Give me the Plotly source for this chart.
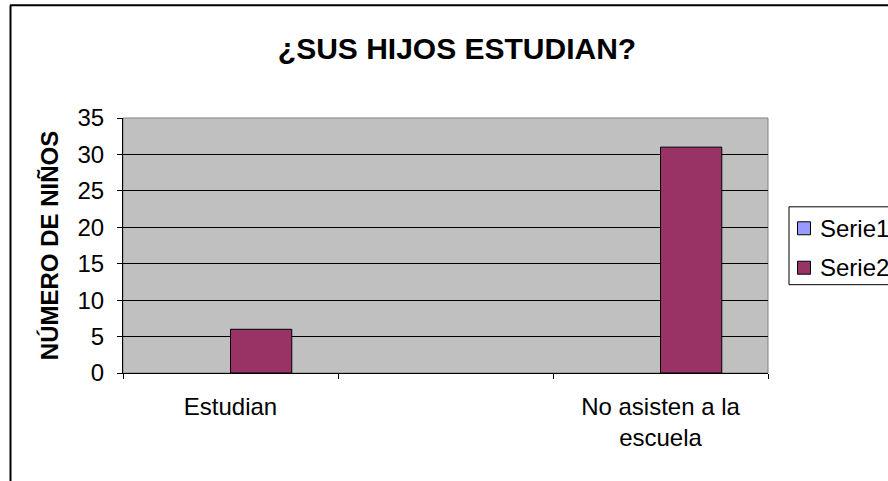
import plotly.graph_objects as go

categories = ["Estudian", " ", "No asisten a la<br>escuela"]
series_names = ["Serie1", "Serie2"]
serie1 = [None, None, None]
serie2 = [6, None, 31]
series_colors = ["#9999FF", "#993366"]
y_ticks = [0, 5, 10, 15, 20, 25, 30, 35]

FONT = "Liberation Sans, Arial, sans-serif"

fig = go.Figure()
for name, vals, col in zip(series_names, [serie1, serie2], series_colors):
    fig.add_trace(go.Bar(name=name, x=categories, y=vals,
                         marker=dict(color=col, line=dict(color="black", width=1)),
                         showlegend=False))

L, R, T, B = 123, 120, 118, 107.5
pw = 888 - L - R
ph = 481 - T - B

def px_x(p):
    return (p - L) / pw

def px_y(p):
    return (481 - B - p) / ph

shapes = [
    dict(type="rect", xref="paper", yref="paper", x0=0, x1=1, y0=0, y1=1,
         line=dict(color="#808080", width=1), layer="below"),
    dict(type="line", xref="paper", yref="paper", x0=px_x(10.5), x1=px_x(10.5),
         y0=px_y(5), y1=px_y(600), line=dict(color="black", width=2)),
    dict(type="line", xref="paper", yref="paper", x0=px_x(10), x1=px_x(1000),
         y0=px_y(5), y1=px_y(5), line=dict(color="black", width=2)),
    # legend box
    dict(type="rect", xref="paper", yref="paper", x0=px_x(789), x1=px_x(1000),
         y0=px_y(285), y1=px_y(207), line=dict(color="black", width=1),
         fillcolor="white"),
]
annotations = []
legend_centers = [228.5, 268]
for name, col, cy in zip(series_names, series_colors, legend_centers):
    shapes.append(dict(type="rect", xref="paper", yref="paper",
                       x0=px_x(797.5), x1=px_x(810.5), y0=px_y(cy + 6.5), y1=px_y(cy - 6.5),
                       line=dict(color="black", width=1), fillcolor=col))
    annotations.append(dict(text=name, xref="paper", yref="paper", x=px_x(818),
                            y=px_y(cy), xanchor="left", yanchor="middle", showarrow=False,
                            font=dict(size=24, family=FONT, color="black")))

fig.update_layout(
    width=888, height=481,
    margin=dict(l=L, r=R, t=T, b=B),
    paper_bgcolor="white",
    plot_bgcolor="#C0C0C0",
    font=dict(family=FONT, size=24, color="black"),
    barmode="group",
    bargap=0.43,
    bargroupgap=0,
    showlegend=False,
    title=dict(text="<b>¿SUS HIJOS ESTUDIAN?</b>", font=dict(size=30, family=FONT),
               xref="paper", x=px_x(457), xanchor="center",
               yref="container", y=1 - 48 / 481, yanchor="middle"),
    xaxis=dict(type="category", range=[-0.5, 2.5], tickson="boundaries",
               ticks="outside", ticklen=5, tickcolor="black",
               showline=True, linecolor="black", linewidth=1,
               showgrid=False, ticklabelstandoff=12,
               tickfont=dict(size=24)),
    yaxis=dict(range=[0, 35], tickvals=y_ticks, ticks="outside", ticklen=5,
               tickcolor="black", showline=True, linecolor="black", linewidth=1,
               showgrid=True, gridcolor="black", gridwidth=1, zeroline=False,
               tickfont=dict(size=24), ticklabelstandoff=8,
               title=dict(text="<b>NÚMERO DE NIÑOS</b>", font=dict(size=24), standoff=12)),
    shapes=shapes,
    annotations=annotations,
)

fig.write_html("out.html", config={"displayModeBar": False},
               post_script="document.body.style.margin='0';")
